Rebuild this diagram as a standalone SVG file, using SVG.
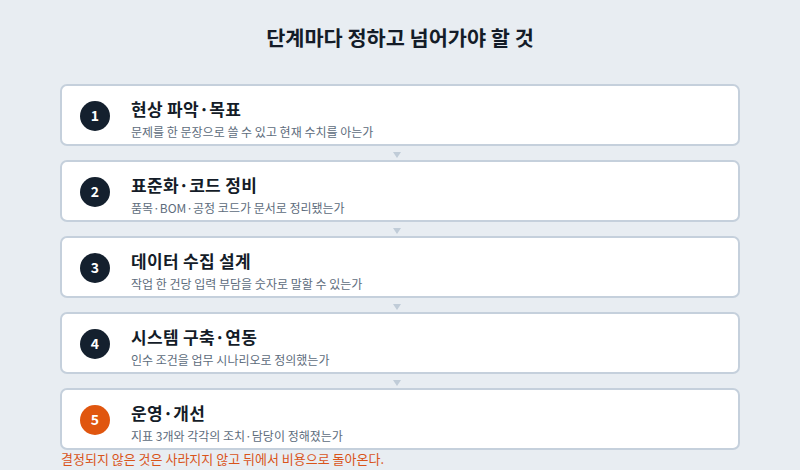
<svg xmlns="http://www.w3.org/2000/svg" width="800" height="470" viewBox="0 0 800 470">
<style>
text{font-family:"Noto Sans CJK KR","Noto Sans",sans-serif}
.box{fill:#ffffff;stroke:#c5d0dc;stroke-width:2}
.num{fill:#14202e}
.num5{fill:#e0560f}
.nt{fill:#ffffff;font-size:14px;font-weight:700;text-anchor:middle}
.t{fill:#141c28;font-size:17px;font-weight:700;letter-spacing:0.3px}
.s{fill:#5d6c7c;font-size:12px}
.arr{fill:#c0ccd8}
</style>
<rect width="800" height="470" fill="#e8edf2"/>
<text x="400" y="46" text-anchor="middle" style="font-size:20.8px;font-weight:700;fill:#141c28">단계마다 정하고 넘어가야 할 것</text>
<g id="connectors">
<polygon class="arr" points="393,152 401,152 397,158"/>
<polygon class="arr" points="393,228 401,228 397,234"/>
<polygon class="arr" points="393,304 401,304 397,310"/>
<polygon class="arr" points="393,380 401,380 397,386"/>
</g>
<g id="step1">
<rect class="box" x="61" y="85" width="678" height="60" rx="6"/>
<circle class="num" cx="95" cy="116" r="15"/>
<text class="nt" x="95" y="121">1</text>
<text class="t" x="131" y="116">현상 파악·목표</text>
<text class="s" x="131" y="137">문제를 한 문장으로 쓸 수 있고 현재 수치를 아는가</text>
</g>
<g id="step2">
<rect class="box" x="61" y="161" width="678" height="60" rx="6"/>
<circle class="num" cx="95" cy="192" r="15"/>
<text class="nt" x="95" y="197">2</text>
<text class="t" x="131" y="192">표준화·코드 정비</text>
<text class="s" x="131" y="213">품목·BOM·공정 코드가 문서로 정리됐는가</text>
</g>
<g id="step3">
<rect class="box" x="61" y="237" width="678" height="60" rx="6"/>
<circle class="num" cx="95" cy="268" r="15"/>
<text class="nt" x="95" y="273">3</text>
<text class="t" x="131" y="268">데이터 수집 설계</text>
<text class="s" x="131" y="289">작업 한 건당 입력 부담을 숫자로 말할 수 있는가</text>
</g>
<g id="step4">
<rect class="box" x="61" y="313" width="678" height="60" rx="6"/>
<circle class="num" cx="95" cy="344" r="15"/>
<text class="nt" x="95" y="349">4</text>
<text class="t" x="131" y="344">시스템 구축·연동</text>
<text class="s" x="131" y="365">인수 조건을 업무 시나리오로 정의했는가</text>
</g>
<g id="step5">
<rect class="box" x="61" y="389" width="678" height="60" rx="6"/>
<circle class="num5" cx="95" cy="420" r="15"/>
<text class="nt" x="95" y="425">5</text>
<text class="t" x="131" y="420">운영·개선</text>
<text class="s" x="131" y="441">지표 3개와 각각의 조치·담당이 정해졌는가</text>
</g>
<text x="61" y="464" style="font-size:13px;fill:#d9541a">결정되지 않은 것은 사라지지 않고 뒤에서 비용으로 돌아온다.</text>
</svg>
